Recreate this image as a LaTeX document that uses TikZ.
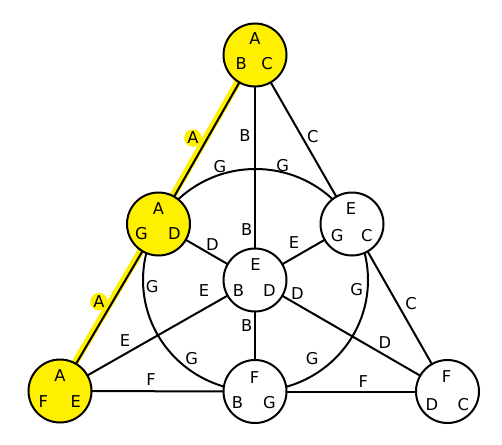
\documentclass[tikz,border=0pt]{standalone}
\usepackage{fontspec}
\setmainfont{DejaVu Sans}
\usetikzlibrary{backgrounds}
\definecolor{hl}{RGB}{255,240,0}
\begin{document}
\begin{tikzpicture}[x=1pt,y=-1pt,
  vert/.style={circle,draw=black,line width=2pt,minimum size=63pt,inner sep=0pt},
  txt/.style={inner sep=0pt,font=\fontsize{16.3}{16}\selectfont},
  alab/.style={circle,fill=hl,inner sep=0pt,minimum size=17.6pt,font=\fontsize{16.3}{16}\selectfont},
  edge/.style={draw=black,line width=2pt},
  hlline/.style={draw=hl,line width=7pt}]
\useasboundingbox (0,0) rectangle (502,444);
% vertices
\node[vert,fill=hl]    (T)  at (255,55)    {};
\node[vert,fill=hl]    (ML) at (158.5,224) {};
\node[vert,fill=hl]    (BL) at (60,391)    {};
\node[vert,fill=white] (C)  at (255,280)   {};
\node[vert,fill=white] (RM) at (352,224)   {};
\node[vert,fill=white] (BM) at (255,391.5) {};
\node[vert,fill=white] (BR) at (447.5,391.5) {};
% letters inside vertices
\node[txt] (T1) at ([shift={(0,-16.7)}]T.center) {A};
\node[txt] (T2) at ([shift={(-13.7,8.3)}]T.center) {B};
\node[txt] (T3) at ([shift={(12,8.3)}]T.center) {C};
\node[txt] (ML1) at ([shift={(0,-15)}]ML.center) {A};
\node[txt] (ML2) at ([shift={(-17,9.3)}]ML.center) {G};
\node[txt] (ML3) at ([shift={(15.8,9.3)}]ML.center) {D};
\node[txt] (BL1) at ([shift={(0,-15)}]BL.center) {A};
\node[txt] (BL2) at ([shift={(-16.7,10.3)}]BL.center) {F};
\node[txt] (BL3) at ([shift={(15.7,10.3)}]BL.center) {E};
\node[txt] (C1) at ([shift={(0.5,-15)}]C.center) {E};
\node[txt] (C2) at ([shift={(-16.5,11)}]C.center) {B};
\node[txt] (C3) at ([shift={(14.5,11)}]C.center) {D};
\node[txt] (RM1) at ([shift={(-1,-15.7)}]RM.center) {E};
\node[txt] (RM2) at ([shift={(-14.7,11.7)}]RM.center) {G};
\node[txt] (RM3) at ([shift={(14.7,11.7)}]RM.center) {C};
\node[txt] (BM1) at ([shift={(-0.5,-14.3)}]BM.center) {F};
\node[txt] (BM2) at ([shift={(-17.5,10.7)}]BM.center) {B};
\node[txt] (BM3) at ([shift={(14.5,10.7)}]BM.center) {G};
\node[txt] (BR1) at ([shift={(-1,-15)}]BR.center) {F};
\node[txt] (BR2) at ([shift={(-15.7,13.3)}]BR.center) {D};
\node[txt] (BR3) at ([shift={(15.7,13.3)}]BR.center) {C};
% connectors
\begin{scope}[on background layer]
  \draw[hlline] ([shift={(-1.3,-0.75)}]T.center) -- ([shift={(-1.3,-0.75)}]ML.center);
  \draw[hlline] ([shift={(-1.3,-0.75)}]ML.center) -- ([shift={(-1.3,-0.75)}]BL.center);
  \draw[edge] (T.center) -- (ML.center);
  \draw[edge] (ML.center) -- (BL.center);
  \draw[edge] (T.center) -- (RM.center);
  \draw[edge] (RM.center) -- (BR.center);
  \draw[edge] (BL.center) -- (BM.center);
  \draw[edge] (BM.center) -- (BR.center);
  \draw[edge] (T.center) -- (C.center);
  \draw[edge] (C.center) -- (BM.center);
  \draw[edge] (ML.center) -- (C.center);
  \draw[edge] (C.center) -- (BR.center);
  \draw[edge] (RM.center) -- (C.center);
  \draw[edge] (C.center) -- (BL.center);
  \draw[edge] ([xshift=0.5pt]C.center) ellipse [x radius=112.5pt, y radius=111pt];
\end{scope}
% connector labels
\node[alab] (la1) at (193,138) {A};
\node[alab] (la2) at (99,301.7) {A};
\node[txt] (lb1) at (245,136) {B};
\node[txt] (lb2) at (246.7,230) {B};
\node[txt] (lb3) at (246.7,326) {B};
\node[txt] (lc1) at (312.7,136.7) {C};
\node[txt] (lc2) at (411,303.3) {C};
\node[txt] (lg1) at (220,166.7) {G};
\node[txt] (lg2) at (282.7,165.7) {G};
\node[txt] (lg3) at (152.3,286.7) {G};
\node[txt] (lg4) at (356.7,290) {G};
\node[txt] (lg5) at (191.7,359) {G};
\node[txt] (lg6) at (312.3,359) {G};
\node[txt] (ld1) at (212.3,245) {D};
\node[txt] (ld2) at (297.3,293.3) {D};
\node[txt] (ld3) at (385,342.7) {D};
\node[txt] (le1) at (294,242.7) {E};
\node[txt] (le2) at (204,291) {E};
\node[txt] (le3) at (125,340.7) {E};
\node[txt] (lf1) at (151,380) {F};
\node[txt] (lf2) at (363.3,381.7) {F};
\end{tikzpicture}
\end{document}
